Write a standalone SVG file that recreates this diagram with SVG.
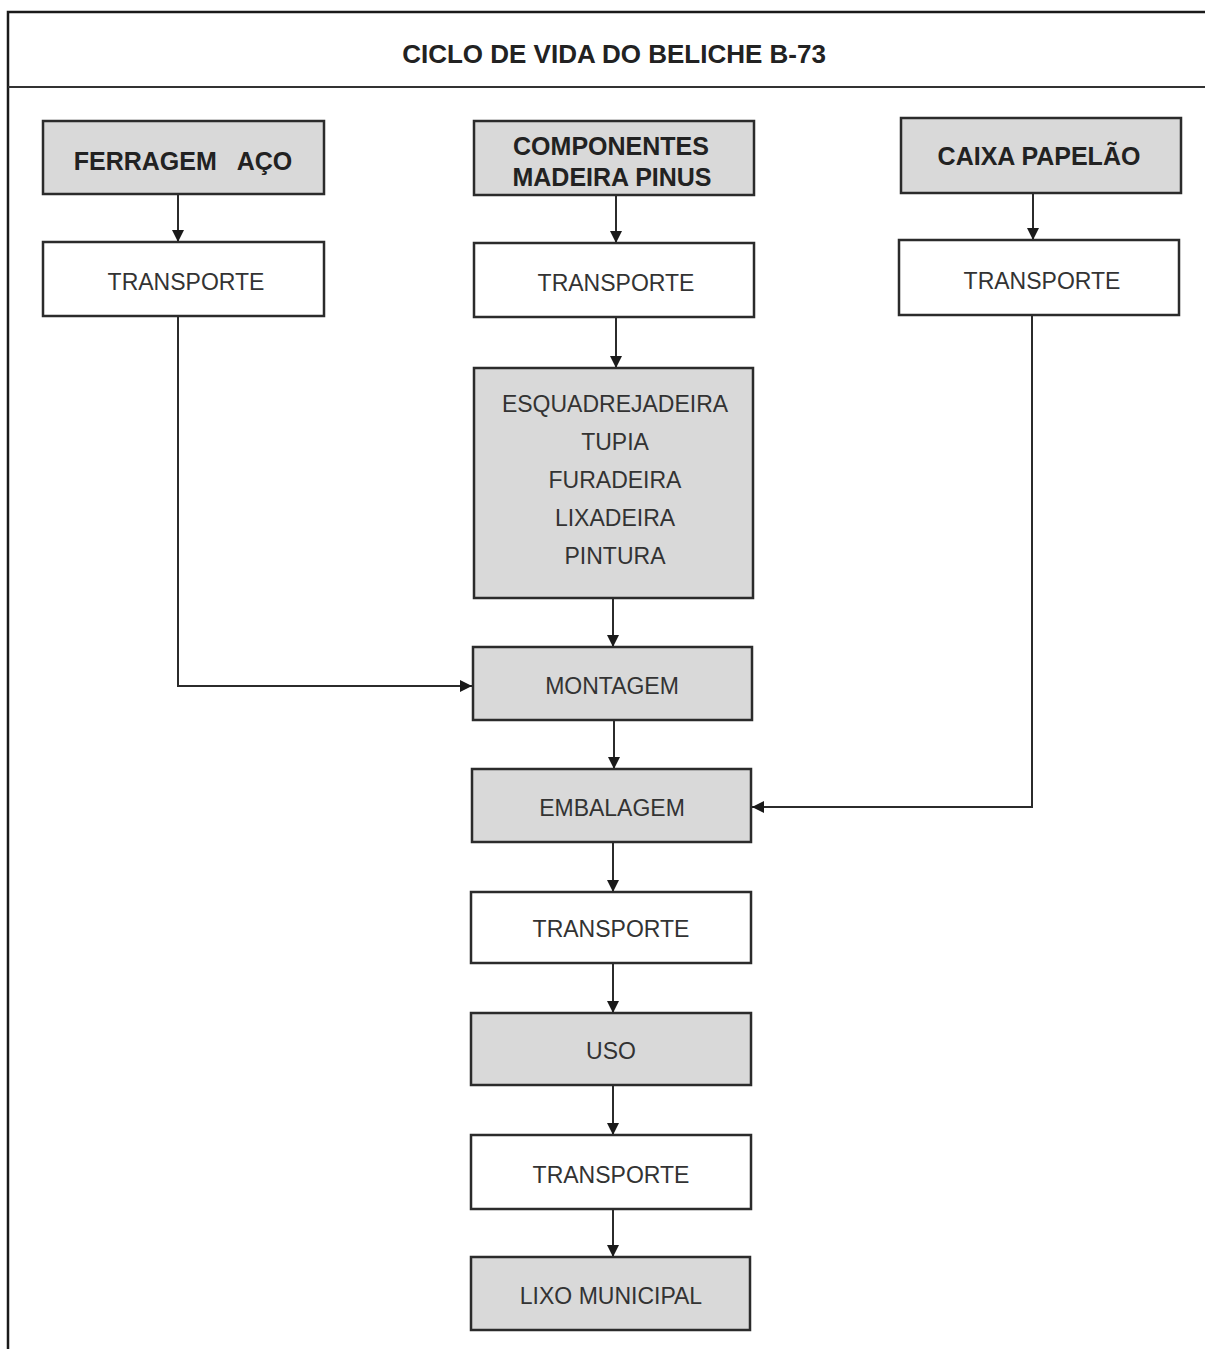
<svg xmlns="http://www.w3.org/2000/svg" width="1205" height="1349" viewBox="0 0 1205 1349">
<style>
.box{stroke:#2b2b2b;stroke-width:2.5}
.g{fill:#d9d9d9}
.w{fill:#ffffff}
.b{font-family:"Liberation Sans",Arial,sans-serif;font-weight:bold;font-size:25px;fill:#222;text-anchor:middle}
.n{font-family:"Liberation Sans",Arial,sans-serif;font-size:23px;fill:#333;text-anchor:middle}
.c{fill:none;stroke:#2b2b2b;stroke-width:2}
.frame{fill:none;stroke:#1a1a1a;stroke-width:2.5}
</style>
<defs>
<marker id="ah" markerUnits="userSpaceOnUse" markerWidth="12" markerHeight="12" refX="12" refY="6" orient="auto">
<path d="M0,0 L12,6 L0,12 Z" fill="#1a1a1a"/>
</marker>
</defs>
<rect width="1205" height="1349" fill="#ffffff"/>
<g id="frame">
<path class="frame" d="M8,1349 V12 H1205"/>
<path d="M8,87 H1205" stroke="#333" stroke-width="2"/>
<text class="b" x="614" y="63" font-size="26" style="font-size:26px">CICLO DE VIDA DO BELICHE B-73</text>
</g>
<g id="connectors">
<path class="c" d="M178,194 V242" marker-end="url(#ah)"/>
<path class="c" d="M178,316 V686 H472" marker-end="url(#ah)"/>
<path class="c" d="M616,195 V243" marker-end="url(#ah)"/>
<path class="c" d="M616,317 V368" marker-end="url(#ah)"/>
<path class="c" d="M1033,193 V240" marker-end="url(#ah)"/>
<path class="c" d="M1032,315 V807 H752" marker-end="url(#ah)"/>
<path class="c" d="M613,598 V647" marker-end="url(#ah)"/>
<path class="c" d="M614,720 V769" marker-end="url(#ah)"/>
<path class="c" d="M613,842 V892" marker-end="url(#ah)"/>
<path class="c" d="M613,963 V1013" marker-end="url(#ah)"/>
<path class="c" d="M613,1085 V1135" marker-end="url(#ah)"/>
<path class="c" d="M613,1209 V1257" marker-end="url(#ah)"/>
</g>
<g id="ferragem"><rect class="box g" x="43" y="121" width="281" height="73"/><text class="b" x="183" y="170" xml:space="preserve">FERRAGEM   AÇO</text></g>
<g id="transporte1"><rect class="box w" x="43" y="242" width="281" height="74"/><text class="n" x="186" y="290">TRANSPORTE</text></g>
<g id="componentes"><rect class="box g" x="474" y="121" width="280" height="74"/><text class="b" x="611" y="155">COMPONENTES</text><text class="b" x="612" y="186">MADEIRA PINUS</text></g>
<g id="transporte2"><rect class="box w" x="474" y="243" width="280" height="74"/><text class="n" x="616" y="291">TRANSPORTE</text></g>
<g id="caixa"><rect class="box g" x="901" y="118" width="280" height="75"/><text class="b" x="1039" y="165">CAIXA PAPELÃO</text></g>
<g id="transporte3"><rect class="box w" x="899" y="240" width="280" height="75"/><text class="n" x="1042" y="289">TRANSPORTE</text></g>
<g id="processos"><rect class="box g" x="474" y="368" width="279" height="230"/>
<text class="n" x="615" y="412">ESQUADREJADEIRA</text>
<text class="n" x="615" y="450">TUPIA</text>
<text class="n" x="615" y="488">FURADEIRA</text>
<text class="n" x="615" y="526">LIXADEIRA</text>
<text class="n" x="615" y="564">PINTURA</text></g>
<g id="montagem"><rect class="box g" x="473" y="647" width="279" height="73"/><text class="n" x="612" y="694">MONTAGEM</text></g>
<g id="embalagem"><rect class="box g" x="472" y="769" width="279" height="73"/><text class="n" x="612" y="816">EMBALAGEM</text></g>
<g id="transporte4"><rect class="box w" x="471" y="892" width="280" height="71"/><text class="n" x="611" y="937">TRANSPORTE</text></g>
<g id="uso"><rect class="box g" x="471" y="1013" width="280" height="72"/><text class="n" x="611" y="1059">USO</text></g>
<g id="transporte5"><rect class="box w" x="471" y="1135" width="280" height="74"/><text class="n" x="611" y="1183">TRANSPORTE</text></g>
<g id="lixo"><rect class="box g" x="471" y="1257" width="279" height="73"/><text class="n" x="611" y="1304">LIXO MUNICIPAL</text></g>
</svg>
